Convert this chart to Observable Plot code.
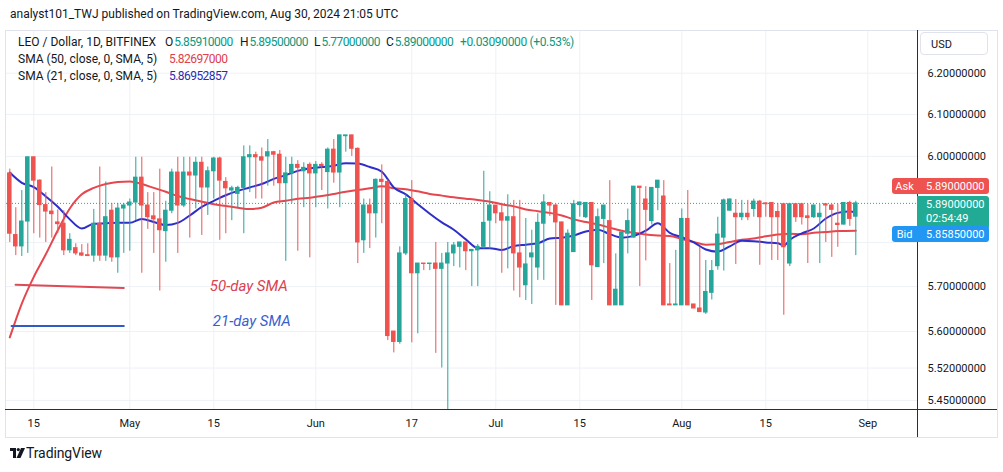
<!DOCTYPE html>
<html><head><meta charset="utf-8">
<script src="https://cdn.jsdelivr.net/npm/d3@7"></script>
<script src="https://cdn.jsdelivr.net/npm/@observablehq/plot@0.6"></script>
<style>
body{margin:0;background:#fff;font-family:Roboto,"DejaVu Sans",sans-serif;color:#131722}
#wrap{position:relative;width:1003px;height:472px;overflow:hidden}
.abs{position:absolute;white-space:nowrap;line-height:1}
.num{letter-spacing:-0.55px}
#wrap svg{position:absolute;left:0;top:0}
</style></head>
<body><div id="wrap"></div>
<script>
// ---------- data ----------
const dates = [
"04-11","04-12","04-13","04-14","04-15","04-16","04-17","04-18","04-19","04-20","04-21","04-22","04-23","04-24","04-25","04-26","04-27","04-28","04-29","04-30",
"05-01","05-02","05-03","05-04","05-05","05-06","05-07","05-08","05-09","05-10","05-11","05-12","05-13","05-14","05-15","05-16","05-17","05-18","05-19","05-20","05-21","05-22","05-23","05-24","05-25","05-26","05-27","05-28","05-29","05-30","05-31",
"06-01","06-02","06-03","06-04","06-05","06-06","06-07","06-08","06-09","06-10","06-11","06-12","06-13","06-14","06-15","06-16","06-17","06-18","06-19","06-20","06-21","06-22","06-23","06-24","06-25","06-26","06-27","06-28","06-29","06-30",
"07-01","07-02","07-03","07-04","07-05","07-06","07-07","07-08","07-09","07-10","07-11","07-12","07-13","07-14","07-15","07-16","07-17","07-18","07-19","07-20","07-21","07-22","07-23","07-24","07-25","07-26","07-27","07-28","07-29","07-30","07-31",
"08-01","08-02","08-03","08-04","08-05","08-06","08-07","08-08","08-09","08-10","08-11","08-12","08-13","08-14","08-15","08-16","08-17","08-18","08-19","08-20","08-21","08-22","08-23","08-24","08-25","08-26","08-27","08-28","08-29","08-30"];
const opens = [
5.96,5.817,5.791,5.848,5.998,5.943,5.886,5.871,5.846,5.843,5.782,5.787,5.775,5.771,5.770,5.843,5.770,5.873,5.766,5.878,
5.885,5.892,5.950,5.885,5.860,5.853,5.826,5.873,5.962,5.885,5.962,5.955,5.985,5.927,5.965,5.995,5.940,5.920,5.912,5.926,5.998,6.003,5.998,6.000,6.010,6.004,5.937,5.960,5.980,5.965,5.980,
5.960,5.980,5.963,6.016,5.962,6.048,6.050,6.018,5.805,5.885,5.867,5.945,5.940,5.600,5.577,5.775,5.900,5.730,5.752,5.751,5.752,5.740,5.752,5.775,5.790,5.800,5.780,5.782,5.790,5.850,
5.885,5.867,5.850,5.858,5.775,5.703,5.766,5.743,5.843,5.891,5.885,5.846,5.658,5.778,5.886,5.858,5.891,5.744,5.854,5.849,5.658,5.658,5.820,5.811,5.929,5.899,5.849,5.926,5.906,5.660,5.658,
5.658,5.854,5.660,5.651,5.642,5.686,5.746,5.811,5.873,5.866,5.858,5.866,5.877,5.894,5.890,5.891,5.870,5.888,5.752,5.888,5.888,5.860,5.858,5.858,5.888,5.885,5.843,5.841,5.891,5.8591];
const highs = [
5.97,5.88,5.92,5.998,5.998,5.945,5.915,5.975,5.875,5.873,5.82,5.797,5.795,5.797,5.876,5.975,5.94,5.89,5.89,5.89,
5.90,5.998,5.998,5.915,5.915,5.97,5.895,5.97,5.998,5.998,5.998,5.998,5.998,5.975,5.998,5.998,5.95,5.93,5.93,6.025,6.025,6.01,6.02,6.04,6.012,6.014,5.998,5.998,5.99,5.985,5.985,
5.988,5.985,6.02,6.04,6.05,6.05,6.05,6.02,5.90,5.90,5.947,5.98,5.945,5.60,5.79,5.91,5.943,5.752,5.752,5.752,5.80,5.775,5.80,5.80,5.80,5.80,5.784,5.795,5.965,5.917,
5.885,5.89,5.91,5.897,5.897,5.855,5.828,5.866,5.91,5.892,5.888,5.846,5.829,5.897,5.893,5.892,5.892,5.877,5.885,5.943,5.774,5.823,5.877,5.929,5.929,5.929,5.927,5.943,5.943,5.752,5.782,
5.877,5.92,5.66,5.789,5.759,5.759,5.858,5.90,5.90,5.899,5.897,5.897,5.90,5.897,5.891,5.892,5.89,5.89,5.89,5.89,5.89,5.888,5.886,5.888,5.889,5.888,5.888,5.892,5.895,5.895];
const lows = [
5.80,5.77,5.768,5.775,5.82,5.81,5.80,5.81,5.82,5.77,5.775,5.77,5.768,5.769,5.755,5.757,5.757,5.755,5.73,5.775,
5.78,5.85,5.73,5.83,5.775,5.69,5.755,5.866,5.775,5.88,5.81,5.877,5.816,5.862,5.90,5.805,5.82,5.85,5.88,5.82,5.915,5.90,5.90,5.93,5.93,5.89,5.757,5.89,5.78,5.88,5.765,
5.88,5.92,5.877,5.937,5.88,6.01,6.00,5.752,5.775,5.786,5.81,5.843,5.58,5.553,5.572,5.77,5.575,5.595,5.736,5.736,5.552,5.52,5.43,5.745,5.742,5.736,5.70,5.70,5.785,5.785,
5.843,5.73,5.74,5.69,5.675,5.669,5.66,5.714,5.714,5.86,5.658,5.658,5.658,5.778,5.858,5.855,5.669,5.744,5.752,5.658,5.658,5.658,5.774,5.81,5.70,5.758,5.84,5.873,5.658,5.658,5.658,
5.658,5.658,5.651,5.643,5.638,5.67,5.737,5.735,5.873,5.75,5.85,5.85,5.858,5.748,5.858,5.759,5.759,5.636,5.745,5.846,5.84,5.752,5.855,5.752,5.80,5.766,5.789,5.84,5.837,5.77];
const closes = [
5.82,5.791,5.848,5.998,5.943,5.886,5.871,5.865,5.842,5.782,5.806,5.775,5.770,5.769,5.843,5.770,5.858,5.766,5.878,5.885,
5.892,5.950,5.885,5.858,5.853,5.828,5.873,5.962,5.885,5.962,5.955,5.985,5.927,5.965,5.995,5.943,5.925,5.925,5.926,5.998,6.003,5.998,5.990,6.010,6.004,5.937,5.960,5.980,5.973,5.973,5.960,
5.980,5.977,6.016,5.962,6.050,6.050,6.018,5.800,5.885,5.867,5.945,5.940,5.590,5.577,5.775,5.900,5.730,5.752,5.751,5.752,5.740,5.752,5.775,5.793,5.800,5.780,5.783,5.790,5.845,5.885,
5.867,5.850,5.858,5.775,5.743,5.750,5.775,5.845,5.892,5.885,5.846,5.658,5.820,5.888,5.892,5.891,5.748,5.858,5.885,5.658,5.693,5.823,5.849,5.929,5.926,5.875,5.926,5.943,5.658,5.658,5.660,
5.854,5.658,5.651,5.643,5.688,5.735,5.818,5.897,5.899,5.858,5.866,5.858,5.894,5.858,5.888,5.858,5.858,5.789,5.888,5.858,5.858,5.856,5.885,5.866,5.885,5.875,5.840,5.891,5.854,5.890];

const sma21Dates = ["04-11","04-13","04-15","04-17","04-19","04-21","04-23","04-25","04-27","04-29","05-01","05-03","05-05","05-07","05-09","05-11","05-13","05-15","05-17","05-19","05-21","05-23","05-25","05-27","05-29","05-31","06-02","06-04","06-06","06-08","06-10","06-12","06-14","06-16","06-18","06-20","06-22","06-24","06-26","06-28","06-30","07-02","07-04","07-06","07-08","07-10","07-12","07-14","07-16","07-18","07-20","07-22","07-24","07-26","07-28","07-30","08-01","08-03","08-05","08-07","08-09","08-11","08-13","08-15","08-17","08-18","08-19","08-21","08-23","08-25","08-27","08-29","08-30"];
const sma21Values = [5.962,5.938,5.928,5.906,5.882,5.853,5.832,5.843,5.844,5.845,5.845,5.854,5.847,5.840,5.845,5.862,5.882,5.896,5.909,5.919,5.927,5.935,5.947,5.956,5.966,5.972,5.975,5.978,5.984,5.983,5.975,5.964,5.927,5.911,5.888,5.866,5.846,5.829,5.807,5.787,5.787,5.783,5.792,5.795,5.798,5.809,5.811,5.816,5.825,5.829,5.819,5.811,5.815,5.827,5.844,5.822,5.812,5.800,5.784,5.779,5.791,5.804,5.803,5.800,5.798,5.793,5.806,5.821,5.832,5.855,5.868,5.871,5.86952857];
const sma50Dates = ["04-11","04-13","04-15","04-17","04-19","04-21","04-23","04-25","04-27","04-29","05-01","05-03","05-05","05-07","05-09","05-11","05-13","05-15","05-17","05-19","05-21","05-23","05-25","05-27","05-29","05-31","06-02","06-04","06-06","06-08","06-10","06-12","06-14","06-16","06-18","06-20","06-22","06-24","06-26","06-28","06-30","07-02","07-04","07-06","07-08","07-10","07-12","07-14","07-16","07-18","07-20","07-22","07-24","07-26","07-28","07-30","08-01","08-03","08-05","08-07","08-09","08-11","08-13","08-15","08-17","08-19","08-21","08-23","08-25","08-27","08-30"];
const sma50Values = [5.587,5.662,5.722,5.773,5.828,5.878,5.911,5.926,5.935,5.940,5.941,5.935,5.926,5.917,5.907,5.900,5.894,5.888,5.884,5.880,5.877,5.880,5.892,5.896,5.901,5.903,5.907,5.912,5.917,5.921,5.925,5.930,5.925,5.923,5.918,5.912,5.908,5.904,5.901,5.898,5.894,5.888,5.883,5.876,5.872,5.868,5.862,5.853,5.847,5.841,5.834,5.827,5.822,5.818,5.816,5.815,5.808,5.801,5.795,5.796,5.801,5.806,5.809,5.814,5.818,5.820,5.819,5.822,5.824,5.826,5.82697];

// hand-drawn annotation lines + labels
const note50Dates = ["04-11T23:00","04-30T00:00"], note50Values = [5.704, 5.697];
const note21Dates = ["04-11T07:00","04-30T00:00"], note21Values = [5.612, 5.612];
const noteLabels = ["50-day SMA","21-day SMA"], noteLabelDates = ["05-20T20:00","05-21T08:00"], noteLabelValues = [5.702, 5.622];

const priceTicks = [5.45, 5.52, 5.6, 5.7, 5.8, 6.0, 6.1, 6.2];
const priceTickLabels = [5.45, 5.52, 5.6, 5.7, 6.0, 6.1, 6.2]; // 5.8 sits under the Bid label
const timeTicks = ["04-15","05-01","05-15","06-01","06-17","07-01","07-15","08-01","08-15","09-01"];
const timeLabels = ["15","May","15","Jun","17","Jul","15","Aug","15","Sep"];

const askPrice = 5.89, bidPrice = 5.8585, countdown = "02:54:49";
const legendOHLC = ["5.85910000","5.89500000","5.77000000","5.89000000"];
const legendChange = "+0.03090000 (+0.53%)";
const sma50Last = "5.82697000", sma21Last = "5.86952857";

// ---------- build ----------
const parse = s => new Date("2024-" + s + (s.length > 5 ? ":00Z" : "T00:00:00Z"));
const candles = dates.map((d, k) => ({date: parse(d), open: opens[k], high: highs[k], low: lows[k], close: closes[k]}));
const sma21 = sma21Dates.map((d, k) => ({date: parse(d), v: sma21Values[k]}));
const sma50 = sma50Dates.map((d, k) => ({date: parse(d), v: sma50Values[k]}));
const n50 = note50Dates.map((d, k) => ({date: parse(d), v: note50Values[k]}));
const n21 = note21Dates.map((d, k) => ({date: parse(d), v: note21Values[k]}));
const notes = noteLabels.map((t, k) => ({t, date: parse(noteLabelDates[k]), v: noteLabelValues[k]}));

const UP = "#26a69a", DOWN = "#ef5350", BLUE = "#2e2ec8", RED = "#e5474f";
const DAY = 864e5;
const col = d => d.close >= d.open ? UP : DOWN;
const lastClose = closes[closes.length - 1];

const chart = Plot.plot({
  width: 1003, height: 472,
  marginLeft: 6, marginRight: 86, marginTop: 30, marginBottom: 62,
  style: {fontFamily: "Roboto, sans-serif", fontSize: "11px", color: "#131722", background: "transparent", overflow: "visible"},
  x: {type: "utc", domain: [new Date(Date.UTC(2024, 3, 10, 10, 48)), new Date(Date.UTC(2024, 8, 9, 6, 48))]},
  y: {type: "log", domain: [5.4284, 6.3052]},
  color: {type: "identity"},
  marks: [
    Plot.gridY(priceTicks, {stroke: "#eef1f6", strokeOpacity: 1}),
    Plot.gridX(timeTicks.map(parse), {stroke: "#eef1f6", strokeOpacity: 1}),
    Plot.axisY(priceTickLabels, {anchor: "right", tickSize: 0, tickPadding: 10, tickFormat: d3.format(".8f"), fill: "#131722"}),
    Plot.axisX(timeTicks.map(parse), {anchor: "bottom", tickSize: 0, tickPadding: 9, tickFormat: (d, i) => timeLabels[i], fill: "#131722"}),
    Plot.ruleY([lastClose], {stroke: UP, strokeDasharray: "1,2", strokeWidth: 1}),
    Plot.line(sma50, {x: "date", y: "v", stroke: RED, strokeWidth: 2, curve: "monotone-x", clip: true}),
    Plot.line(sma21, {x: "date", y: "v", stroke: BLUE, strokeWidth: 2, curve: "monotone-x", clip: true}),
    Plot.ruleX(candles, {x: "date", y1: "low", y2: "high", stroke: col, strokeWidth: 1, clip: true}),
    Plot.rect(candles, {
      x1: d => new Date(+d.date - 0.38 * DAY), x2: d => new Date(+d.date + 0.38 * DAY),
      y1: d => Math.min(d.open, d.close), y2: d => Math.max(d.open, d.close),
      fill: col, insetTop: -0.5, insetBottom: -0.5, clip: true
    }),
    Plot.line(n50, {x: "date", y: "v", stroke: "#df4a55", strokeWidth: 2}),
    Plot.line(n21, {x: "date", y: "v", stroke: "#2f5bc6", strokeWidth: 2}),
    Plot.text(notes, {x: "date", y: "v", text: "t", fill: (d, i) => i === 0 ? "#d9424f" : "#3a5fcd", fontSize: 15, fontStyle: "italic", textAnchor: "middle"})
  ]
});

const wrap = document.getElementById("wrap");
wrap.appendChild(chart);
const ys = chart.scale("y");

function add(html, css, cls) {
  const el = document.createElement("div");
  el.className = "abs" + (cls ? " " + cls : "");
  el.innerHTML = html;
  Object.assign(el.style, css);
  wrap.appendChild(el);
  return el;
}
// frame and axis lines
add("", {left: "5px", top: "30px", width: "991px", height: "406px", border: "1px solid #e0e3eb"});
add("", {left: "917px", top: "30px", width: "1px", height: "407px", background: "#2a2e39"});
add("", {left: "5px", top: "409px", width: "992px", height: "1px", background: "#2a2e39"});
// header
add("analyst101_TWJ published on TradingView.com, Aug 30, 2024 21:05 UTC", {left: "10px", top: "8px", fontSize: "12px"});
// legend
const TEAL = "#089981";
add("LEO / Dollar, 1D, BITFINEX", {left: "18px", top: "36px", fontSize: "12px"});
const ohlcX = [165, 240, 314, 386];
["O", "H", "L", "C"].forEach((k, i) => {
  add(k + '<span class="num" style="color:' + TEAL + ';margin-left:1px">' + legendOHLC[i] + "</span>", {left: ohlcX[i] + "px", top: "36px", fontSize: "12px"});
});
add(legendChange, {left: "460px", top: "36px", fontSize: "12px", color: TEAL, letterSpacing: "-0.35px"});
add("SMA (50, close, 0, SMA, 5)", {left: "18px", top: "53px", fontSize: "12px"});
add(sma50Last, {left: "169px", top: "53px", fontSize: "12px", color: "#e0404a"}, "num");
add("SMA (21, close, 0, SMA, 5)", {left: "18px", top: "70px", fontSize: "12px"});
add(sma21Last, {left: "169px", top: "70px", fontSize: "12px", color: "#2b2bb0"}, "num");
// USD box
add("USD", {left: "920px", top: "32px", width: "68px", height: "23px", border: "1px solid #e0e3eb", borderRadius: "4px", boxSizing: "border-box", fontSize: "11px", padding: "6px 0 0 10px", background: "#fff"});
// price labels (positioned through the y scale)
const yAsk = ys.apply(askPrice), yLast = ys.apply(lastClose), yBid = ys.apply(bidPrice);
const lab = {color: "#fff", fontSize: "11px", paddingTop: "3px", boxSizing: "border-box", height: "16px"};
add("Ask", Object.assign({left: "892px", top: (yAsk - 25) + "px", width: "25px", background: "#ef5350", borderRadius: "3px 0 0 3px", textAlign: "center"}, lab));
add(d3.format(".8f")(askPrice), Object.assign({left: "917px", top: (yAsk - 25) + "px", width: "72px", background: "#ef5350", borderRadius: "0 3px 3px 0", paddingLeft: "9px"}, lab));
add(d3.format(".8f")(lastClose) + '<br><span style="display:inline-block;margin-top:3px">' + countdown + "</span>", Object.assign({}, lab, {left: "917px", top: (yLast - 7) + "px", width: "72px", height: "33px", background: "#22ab94", borderRadius: "0 3px 3px 0", paddingLeft: "9px"}));
add("Bid", Object.assign({left: "892px", top: (yBid + 10) + "px", width: "25px", background: "#2196f3", borderRadius: "3px 0 0 3px", textAlign: "center"}, lab));
add(d3.format(".8f")(bidPrice), Object.assign({left: "917px", top: (yBid + 10) + "px", width: "72px", background: "#2196f3", borderRadius: "0 3px 3px 0", paddingLeft: "9px"}, lab));
// TradingView logo
add('<svg width="15" height="10" viewBox="0 0 15 10"><path d="M0 0h6v10H3V3H0z" fill="#131722"/><circle cx="8.3" cy="1.6" r="1.6" fill="#131722"/><path d="M11 0h4l-4.5 10H6.5z" fill="#131722"/></svg>', {left: "10px", top: "448px"});
add("TradingView", {left: "26px", top: "446px", fontSize: "14px", letterSpacing: "-0.1px"});
</script>
</body></html>
